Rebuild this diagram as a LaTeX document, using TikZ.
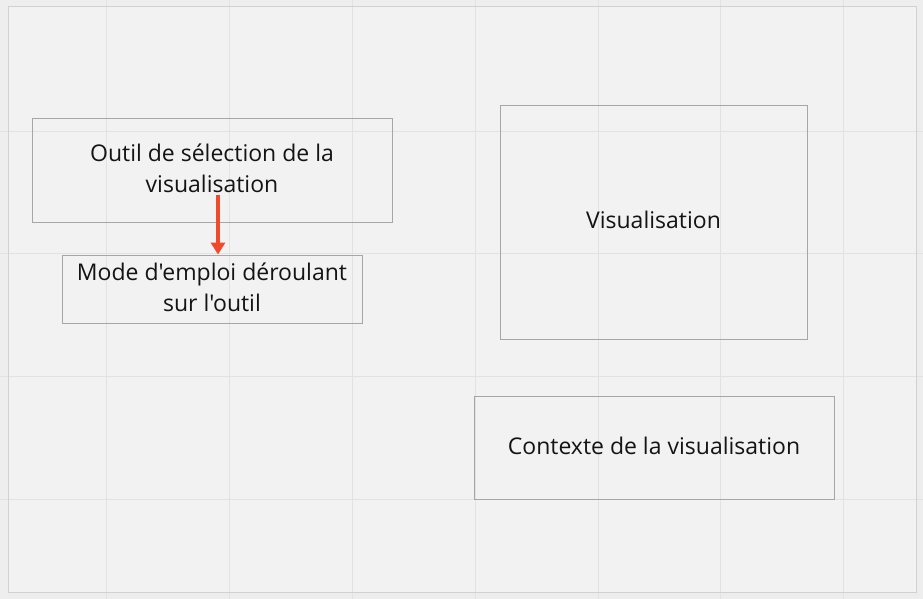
\documentclass[tikz,border=0pt]{standalone}
\usepackage{fontspec}
\setmainfont{Open Sans}[Ligatures=TeXOff]
\usetikzlibrary{arrows.meta,shadows}
\definecolor{bgout}{HTML}{EEEEEE}
\definecolor{page}{HTML}{F2F2F2}
\definecolor{gridc}{HTML}{E2E2E2}
\definecolor{boxline}{HTML}{A6A6A6}
\definecolor{txt}{HTML}{141414}
\definecolor{arrowred}{HTML}{F0492C}
\tikzset{
  card/.style={draw=boxline, line width=0.9pt, fill=none, inner sep=0pt, align=center,
    font=\fontsize{23}{31}\selectfont, text=txt, text depth=4pt},
  link/.style={draw=arrowred, line width=3.4pt, -{Triangle[length=12pt,width=14pt]}}
}
\begin{document}
\begin{tikzpicture}[x=1pt,y=-1pt]
\useasboundingbox (0,0) rectangle (923,599);
\fill[bgout] (0,0) rectangle (923,599);
% shadow of page
\fill[black!12] (10,9) rectangle (919,596);
\fill[black!7] (9,8) rectangle (921,598);
\fill[page] (8,6) rectangle (916,592);
% grid
\foreach \gx in {106,229,352,475,598,720,843} \draw[gridc, line width=0.8pt] (\gx,0) -- (\gx,599);
\foreach \gy in {131,253,376,499} \draw[gridc, line width=0.8pt] (0,\gy) -- (923,\gy);
\draw[black!18, line width=0.9pt] (8,6) rectangle (916,592);
% boxes
\node[card, minimum width=360pt, minimum height=104pt] (outil) at (212,170) {Outil de sélection de la\\visualisation};
\node[card, minimum width=300pt, minimum height=68pt] (mode) at (212,289) {Mode d'emploi déroulant\\sur l'outil};
\node[card, minimum width=307pt, minimum height=234pt] (visu) at (653.5,222) {Visualisation};
\node[card, minimum width=360pt, minimum height=103pt] (ctx) at (654,447.5) {Contexte de la visualisation};
\coordinate (src) at (218,195);
\draw[link] (src) -- (src |- mode.north);
\end{tikzpicture}
\end{document}
